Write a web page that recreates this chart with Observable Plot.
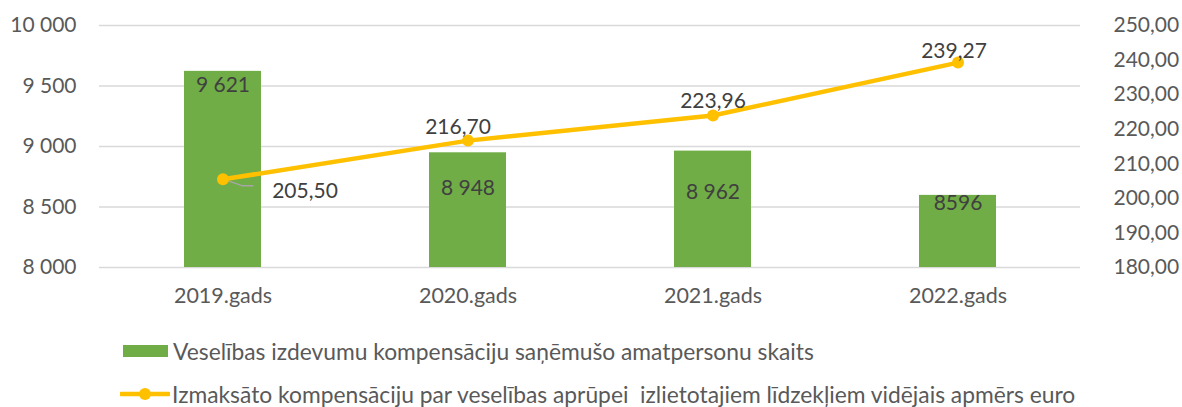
<!DOCTYPE html>
<html>
<head>
<meta charset="utf-8">
<script src="https://cdn.jsdelivr.net/npm/d3@7"></script>
<script src="https://cdn.jsdelivr.net/npm/@observablehq/plot@0.6"></script>
<style>
  body { margin: 0; background: #fff; font-family: Lato, "Open Sans", sans-serif; }
  #wrap { position: relative; width: 1182px; height: 407px; overflow: hidden; }
  .leg { position: absolute; font-size: 22.8px; color: #595959; white-space: pre; line-height: 1; }
</style>
</head>
<body>
<div id="wrap"></div>
<script>
const years = ["2019.gads", "2020.gads", "2021.gads", "2022.gads"];
const officials = [9621, 8948, 8962, 8596];
const officialLabels = ["9 621", "8 948", "8 962", "8596"];
const avgAmount = [205.50, 216.70, 223.96, 239.27];
const avgLabels = ["205,50", "216,70", "223,96", "239,27"];
const leftTicks = [8000, 8500, 9000, 9500, 10000];
const rightTicks = [180, 190, 200, 210, 220, 230, 240, 250];
const seriesNames = [
  "Veselības izdevumu kompensāciju saņēmušo amatpersonu skaits",
  "Izmaksāto kompensāciju par veselības aprūpei  izlietotajiem līdzekļiem vidējais apmērs euro"
];

const L0 = 8000, L1 = 10000, R0 = 180, R1 = 250;
const toLeft = v => L0 + (v - R0) / (R1 - R0) * (L1 - L0);

const data = years.map((y, i) => ({
  year: y, n: officials[i], nLabel: officialLabels[i],
  avg: avgAmount[i], avgY: toLeft(avgAmount[i]), avgLabel: avgLabels[i]
}));

const green = "#70AD47", gold = "#FFC000", txt = "#595959", lab = "#404040";
const fmtLeft = d => d3.format(",")(d).replace(/,/g, " ");
const fmtRight = v => v.toFixed(2).replace(".", ",");

const byYear = y => data.filter(d => d.year === y);
const NF = 21;

const chart = Plot.plot({
  width: 1182,
  height: 320,
  marginTop: 25,
  marginBottom: 53,
  marginLeft: 99,
  marginRight: 102,
  style: { fontFamily: "Lato, 'Open Sans', sans-serif", fontSize: "21px", color: txt, background: "white" },
  x: { domain: years, padding: 0, label: null },
  y: { domain: [L0, L1], label: null },
  marks: [
    Plot.ruleY(leftTicks, { stroke: "#D9D9D9", strokeWidth: 1.5 }),
    Plot.barY(data, { x: "year", y1: L0, y2: "n", fill: green, insetLeft: 84, insetRight: 84 }),
    Plot.axisY(leftTicks, { anchor: "left", tickSize: 0, tickPadding: 23, tickFormat: fmtLeft, fontSize: NF, fill: txt, label: null }),
    Plot.axisY(rightTicks.map(toLeft), { anchor: "right", tickSize: 0, tickPadding: 33, textAnchor: "start",
      tickFormat: v => fmtRight(R0 + (v - L0) / (L1 - L0) * (R1 - R0)), fontSize: NF, fill: txt, label: null }),
    Plot.axisX({ tickSize: 0, tickPadding: 20, fontSize: 21.5, fill: txt, label: null }),
    // bar value labels
    Plot.text(byYear("2019.gads"), { x: "year", y: "n", text: "nLabel", dy: 14, fill: lab, fontSize: NF }),
    Plot.text(byYear("2020.gads"), { x: "year", y: "n", text: "nLabel", dy: 35, fill: lab, fontSize: NF }),
    Plot.text(byYear("2021.gads"), { x: "year", y: "n", text: "nLabel", dy: 41, fill: lab, fontSize: NF }),
    Plot.text(byYear("2022.gads"), { x: "year", y: "n", text: "nLabel", dy: 8, fill: lab, fontSize: NF }),
    // leader line for first label
    Plot.dot(byYear("2019.gads"), { x: "year", y: "avgY", r: 0,
      render: (index, scales, values) => {
        const g = d3.create("svg:g");
        const d = byYear("2019.gads")[0];
        const bw = scales.x.bandwidth ? scales.x.bandwidth() : 0;
        const x = scales.x(d.year) + bw / 2, y = scales.y(d.avgY);
        g.append("path").attr("d", `M${x},${y} L${x + 20},${y + 7} L${x + 31},${y + 7}`)
          .attr("fill", "none").attr("stroke", "#A6A6A6").attr("stroke-width", 1.5);
        return g.node();
      } }),
    Plot.line(data, { x: "year", y: "avgY", stroke: gold, strokeWidth: 4.5 }),
    Plot.dot(data, { x: "year", y: "avgY", r: 6, fill: gold, stroke: null }),
    // line value labels
    Plot.text(byYear("2019.gads"), { x: "year", y: "avgY", text: "avgLabel", dx: 82, dy: 12, fill: lab, fontSize: NF }),
    Plot.text(byYear("2020.gads"), { x: "year", y: "avgY", text: "avgLabel", dx: -10, dy: -13, fill: lab, fontSize: NF }),
    Plot.text(byYear("2021.gads"), { x: "year", y: "avgY", text: "avgLabel", dx: 0, dy: -14, fill: lab, fontSize: NF }),
    Plot.text(byYear("2022.gads"), { x: "year", y: "avgY", text: "avgLabel", dx: -4, dy: -11, fill: lab, fontSize: NF })
  ]
});

const wrap = document.getElementById("wrap");
wrap.appendChild(chart);

// legend
const leg1 = document.createElement("div");
leg1.className = "leg";
leg1.style.left = "123px"; leg1.style.top = "337px";
leg1.innerHTML = `<svg width="46" height="18" style="vertical-align:middle;margin-right:4px"><rect x="0" y="3" width="45" height="12" fill="${green}"/></svg><span style="vertical-align:middle">${seriesNames[0]}</span>`;
wrap.appendChild(leg1);

const leg2 = document.createElement("div");
leg2.className = "leg";
leg2.style.left = "120px"; leg2.style.top = "380px";
leg2.innerHTML = `<svg width="50" height="18" style="vertical-align:middle;margin-right:2px"><line x1="1" y1="9" x2="49" y2="9" stroke="${gold}" stroke-width="4.5" stroke-linecap="round"/><circle cx="25" cy="9" r="6" fill="${gold}"/></svg><span style="vertical-align:middle">${seriesNames[1]}</span>`;
wrap.appendChild(leg2);
</script>
</body>
</html>
